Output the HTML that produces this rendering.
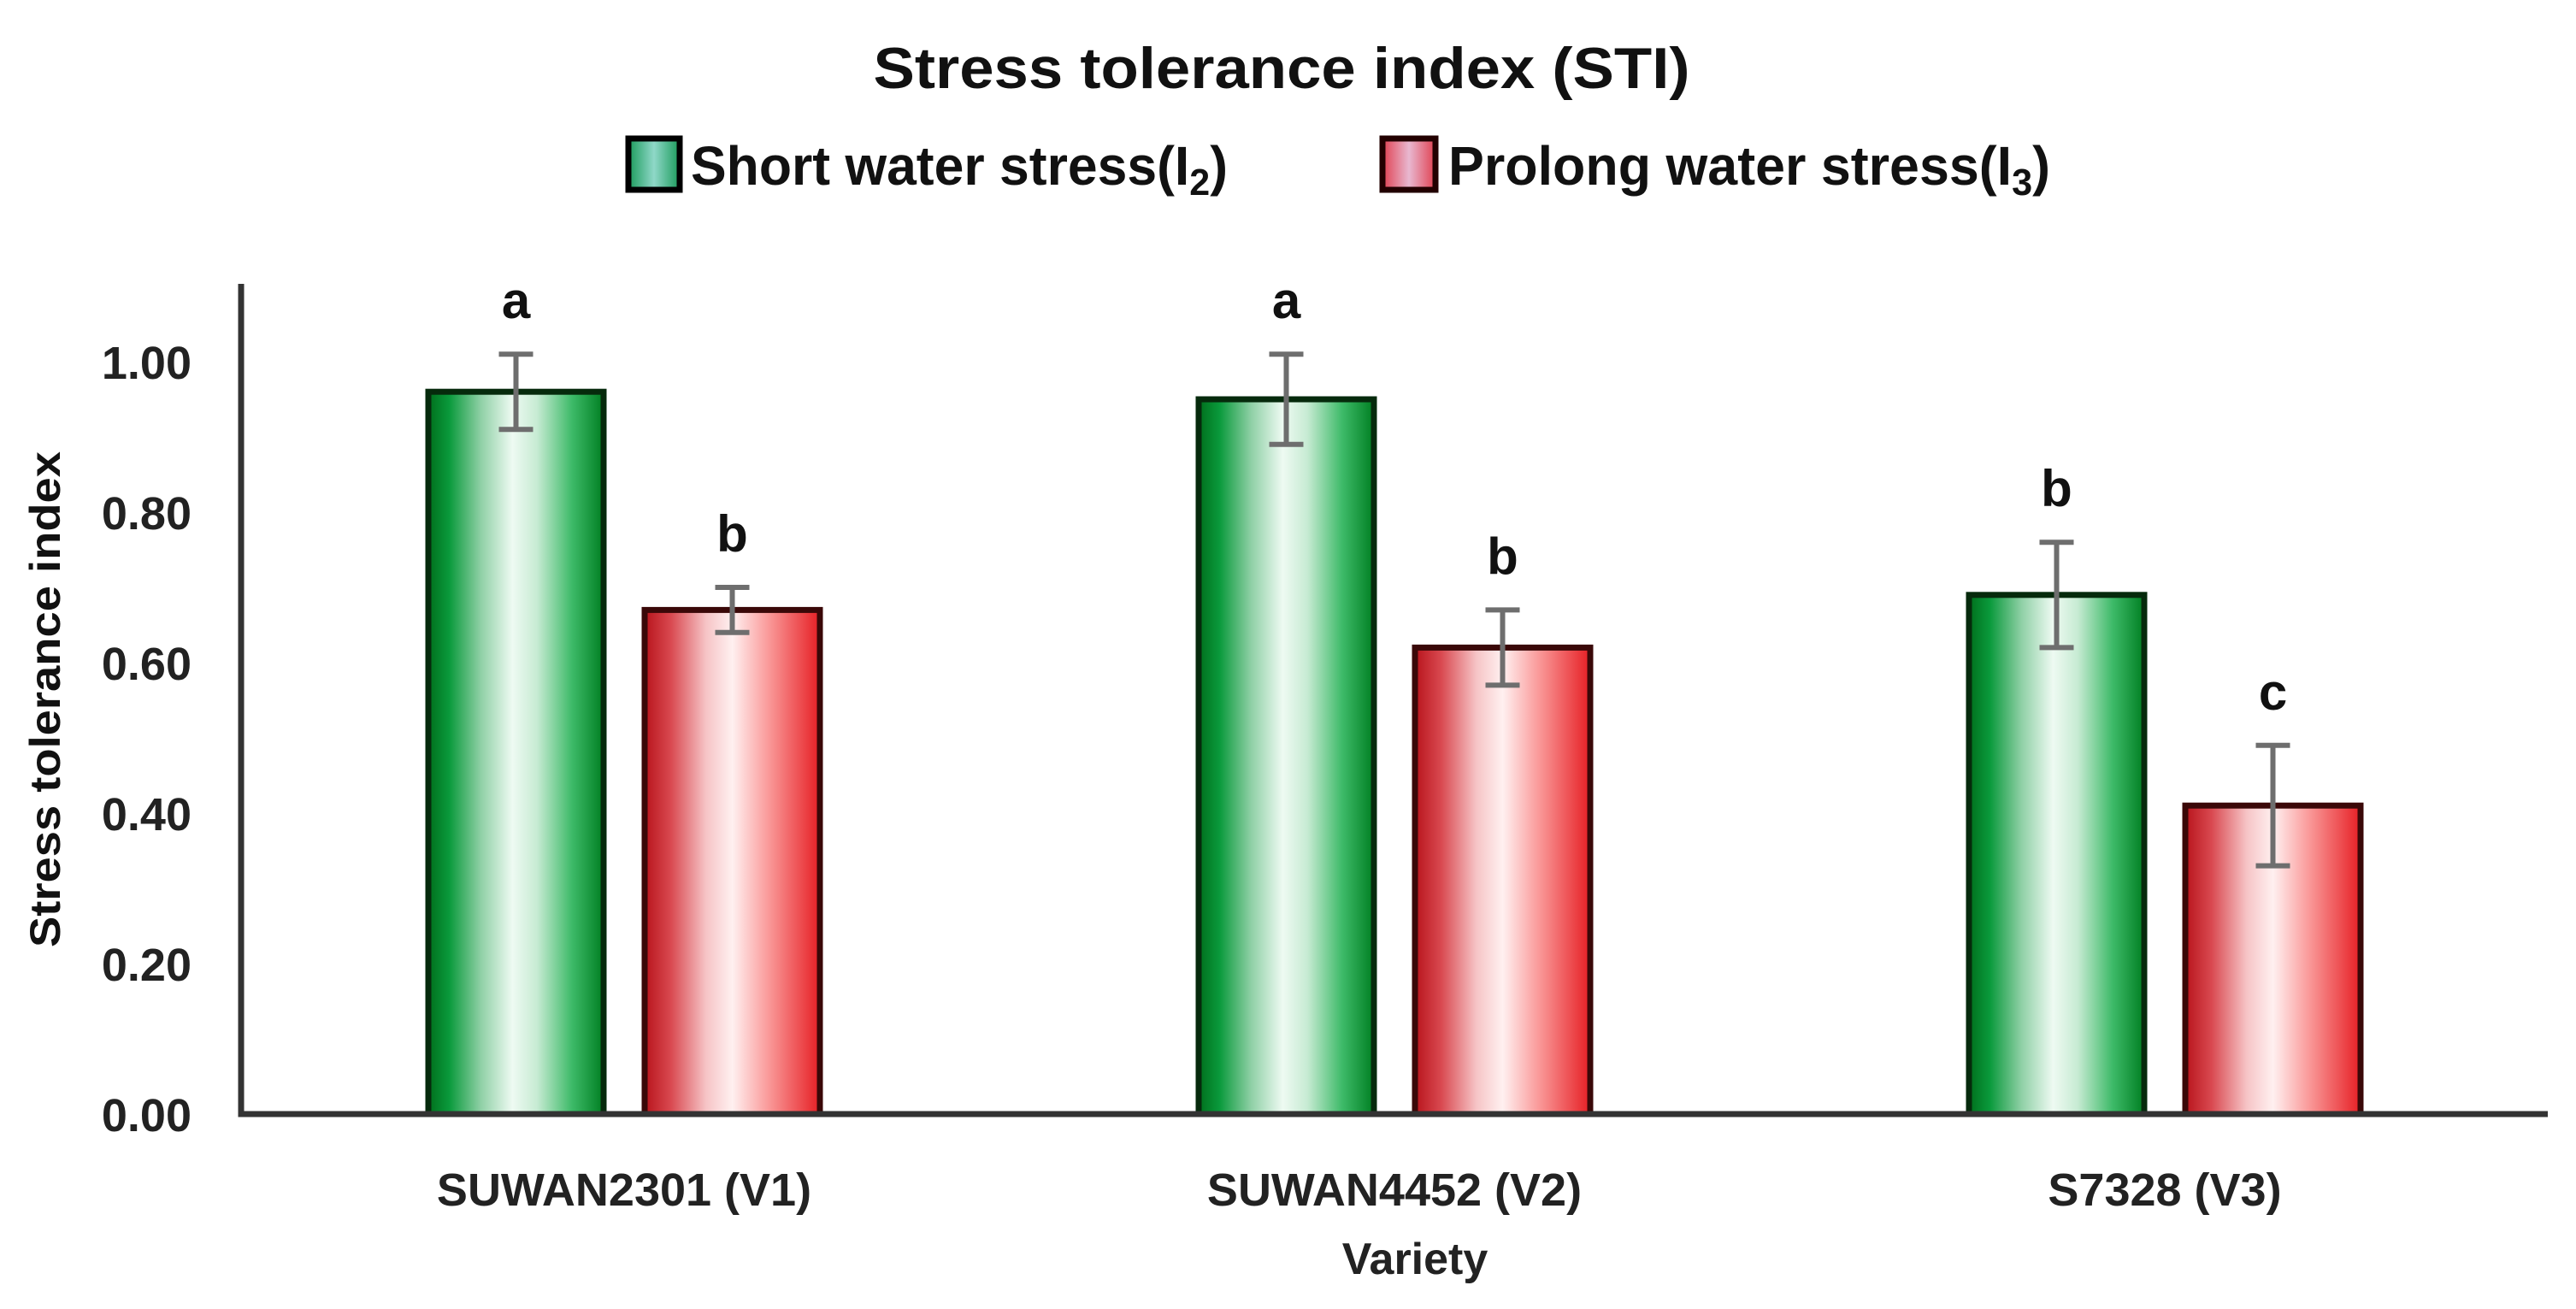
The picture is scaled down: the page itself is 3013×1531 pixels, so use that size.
<!DOCTYPE html>
<html><head><meta charset="utf-8"><style>
html,body{margin:0;padding:0;background:#fff;}
svg{display:block;font-family:"Liberation Sans",Arial,sans-serif;font-weight:bold;}
</style></head><body>
<svg id="chart" width="3013" height="1531" viewBox="0 0 3013 1531" xmlns="http://www.w3.org/2000/svg">
<defs>
<linearGradient id="gGreen" x1="0" x2="1" y1="0" y2="0">
<stop offset="0" stop-color="#006f1c"/><stop offset="0.12" stop-color="#0a9a3c"/><stop offset="0.3" stop-color="#8fd0a6"/><stop offset="0.48" stop-color="#eefaf2"/><stop offset="0.62" stop-color="#c7ebd3"/><stop offset="0.82" stop-color="#3dba68"/><stop offset="1" stop-color="#007f22"/>
</linearGradient>
<linearGradient id="gRed" x1="0" x2="1" y1="0" y2="0">
<stop offset="0" stop-color="#b8141c"/><stop offset="0.15" stop-color="#d94950"/><stop offset="0.35" stop-color="#f6c4c6"/><stop offset="0.5" stop-color="#fff0f0"/><stop offset="0.7" stop-color="#fa9c9c"/><stop offset="1" stop-color="#e61f24"/>
</linearGradient>
<linearGradient id="lgGreen" x1="0" x2="1"><stop offset="0" stop-color="#1a9a5a"/><stop offset="0.5" stop-color="#8fd8c8"/><stop offset="1" stop-color="#1a9a5a"/></linearGradient>
<linearGradient id="lgRed" x1="0" x2="1"><stop offset="0" stop-color="#e04050"/><stop offset="0.5" stop-color="#e8b8d0"/><stop offset="1" stop-color="#e04050"/></linearGradient>
</defs>
<text x="1499" y="103" text-anchor="middle" font-size="68" textLength="955" lengthAdjust="spacingAndGlyphs" fill="#111">Stress tolerance index (STI)</text>
<g>
<g>
<rect x="735" y="162" width="60" height="60" fill="url(#lgGreen)" stroke="#000" stroke-width="7"/>
<text x="808" y="216" font-size="64" textLength="628" lengthAdjust="spacingAndGlyphs" fill="#111">Short water stress(I<tspan font-size="44" dy="12">2</tspan><tspan dy="-12">)</tspan></text>
</g>
<g>
<rect x="1617" y="162" width="62" height="60" fill="url(#lgRed)" stroke="#200" stroke-width="7"/>
<text x="1694" y="216" font-size="64" textLength="704" lengthAdjust="spacingAndGlyphs" fill="#111">Prolong water stress(I<tspan font-size="44" dy="12">3</tspan><tspan dy="-12">)</tspan></text>
</g>
</g>
<g id="plot"></g>
<text transform="translate(70,818) rotate(-90)" text-anchor="middle" font-size="50" textLength="580" lengthAdjust="spacingAndGlyphs" fill="#111">Stress tolerance index</text>
<text x="1655" y="1490" text-anchor="middle" font-size="52" fill="#222">Variety</text>
<script>
const categories = ["SUWAN2301 (V1)", "SUWAN4452 (V2)", "S7328 (V3)"];
const shortVals = [0.96, 0.95, 0.69];
const shortErr = [0.05, 0.06, 0.07];
const shortLetters = ["a", "a", "b"];
const prolongVals = [0.67, 0.62, 0.41];
const prolongErr = [0.03, 0.05, 0.08];
const prolongLetters = ["b", "b", "c"];
const yTicks = [0, 0.2, 0.4, 0.6, 0.8, 1.0];
const yTickLabels = ["0.00", "0.20", "0.40", "0.60", "0.80", "1.00"];

const NS = "http://www.w3.org/2000/svg";
const plot = document.getElementById("plot");
const x0 = 282, x1 = 2980, yBase = 1303, yMax = 1.0, yTop = 423;
function yScale(v){ return yBase - (yBase - yTop) * v / yMax; }
function groupCenter(i){ return 730 + i * 901; }
const barW = 205, gap = 48;
function mk(tag, attrs){ const e = document.createElementNS(NS, tag); for (const k in attrs) e.setAttribute(k, attrs[k]); plot.appendChild(e); return e; }

yTicks.forEach((t, i) => {
  const tx = mk("text", {x: 224, y: yScale(t) + 20, "text-anchor": "end", "font-size": 54, fill: "#222"});
  tx.textContent = yTickLabels[i];
  
  
});

function drawBar(i, v, err, letter, cx, fill, stroke, name){
  const top = yScale(v);
  const r = mk("rect", {x: cx - barW/2, y: top, width: barW, height: yBase - top, fill: fill, stroke: stroke, "stroke-width": 7});
  
  
  const eTop = yScale(v + err), eBot = yScale(v - err);
  const eb = mk("path", {d: `M${cx} ${eTop}V${eBot}M${cx-20} ${eTop}H${cx+20}M${cx-20} ${eBot}H${cx+20}`, stroke: "#6e6e6e", "stroke-width": 6, fill: "none"});
  
  
  const lt = mk("text", {x: cx, y: eTop - 42, "text-anchor": "middle", "font-size": 60, fill: "#111"});
  lt.textContent = letter;
  
  
}

categories.forEach((c, i) => {
  const gc = groupCenter(i);
  drawBar(i, shortVals[i], shortErr[i], shortLetters[i], gc - gap/2 - barW/2, "url(#gGreen)", "#062a0c", "bar-short-v" + (i+1));
  drawBar(i, prolongVals[i], prolongErr[i], prolongLetters[i], gc + gap/2 + barW/2, "url(#gRed)", "#3a0808", "bar-prolong-v" + (i+1));
  const lab = mk("text", {x: gc, y: 1410, "text-anchor": "middle", "font-size": 54, fill: "#222"});
  lab.textContent = c;
  
  
});

const ax = mk("path", {d: `M${x0} 332V${yBase}H${x1}`, stroke: "#333", "stroke-width": 7, fill: "none"});


</script>
</svg>
</body></html>
